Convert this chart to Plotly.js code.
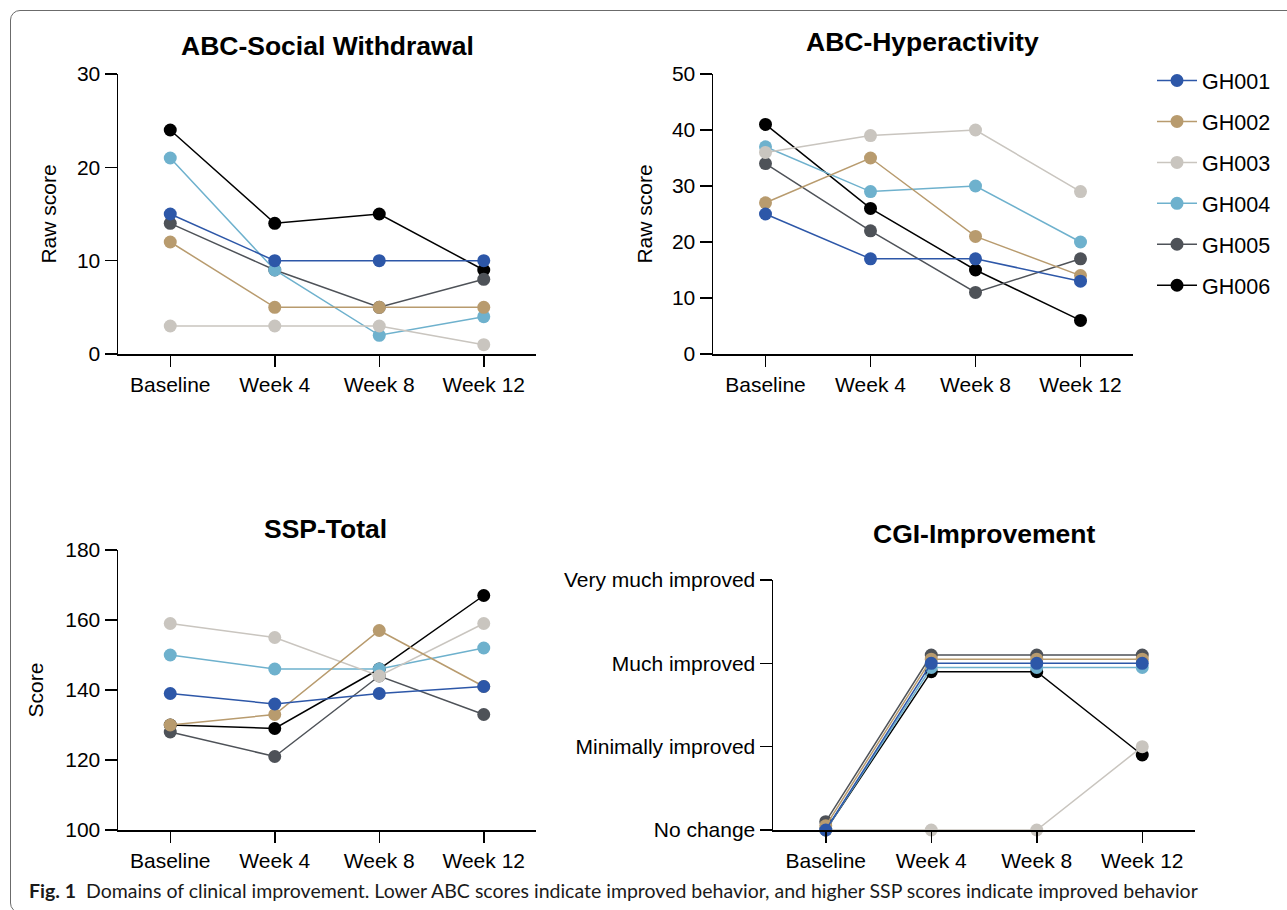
<!DOCTYPE html>
<html><head><meta charset="utf-8">
<script src="https://cdn.plot.ly/plotly-3.0.1.min.js"></script>
<style>
html,body{margin:0;padding:0;background:#fff;overflow:hidden;}
#frame{position:absolute;left:10px;top:10px;width:1300px;height:903px;border:1px solid #6b6b6b;border-radius:10px;box-sizing:border-box;}
#chart{position:absolute;left:0;top:0;width:1287px;height:910px;}
</style></head><body>
<div id="frame"></div>
<div id="chart"></div>
<script>
// ---- data ----
const timepoints = ['Baseline', 'Week 4', 'Week 8', 'Week 12'];
const subjects = ['GH001', 'GH002', 'GH003', 'GH004', 'GH005', 'GH006'];
const subjectColors = ['#2D57A8', '#B89B6E', '#C9C5BF', '#6EB1CD', '#4E5258', '#000000'];

// ABC-Social Withdrawal raw scores (rows = subjects, cols = timepoints)
const socialWithdrawal = [
  [15, 10, 10, 10],
  [12, 5, 5, 5],
  [3, 3, 3, 1],
  [21, 9, 2, 4],
  [14, 9, 5, 8],
  [24, 14, 15, 9]
];
// ABC-Hyperactivity raw scores
const hyperactivity = [
  [25, 17, 17, 13],
  [27, 35, 21, 14],
  [36, 39, 40, 29],
  [37, 29, 30, 20],
  [34, 22, 11, 17],
  [41, 26, 15, 6]
];
// SSP-Total scores
const sspTotal = [
  [139, 136, 139, 141],
  [130, 133, 157, 141],
  [159, 155, 144, 159],
  [150, 146, 146, 152],
  [128, 121, 144, 133],
  [130, 129, 146, 167]
];
// CGI-Improvement (as drawn, with the small vertical nudges of the original)
const cgiImprovement = [
  [0, 2, 2, 2],
  [0.05, 2.05, 2.05, 2.05],
  [0, 0, 0, 1],
  [0, 1.95, 1.95, 1.95],
  [0.1, 2.1, 2.1, 2.1],
  [0, 1.9, 1.9, 0.9]
];
const cgiLevels = ['No change', 'Minimally improved', 'Much improved', 'Very much improved'];

const panelTitles = ['ABC-Social Withdrawal', 'ABC-Hyperactivity', 'SSP-Total', 'CGI-Improvement'];
const caption = 'Domains of clinical improvement. Lower ABC scores indicate improved behavior, and higher SSP scores indicate improved behavior';

// ---- build traces ----
const FONT = 'Liberation Sans, Arial, sans-serif';
const panels = [
  {data: socialWithdrawal, xa: 'x', ya: 'y'},
  {data: hyperactivity, xa: 'x2', ya: 'y2'},
  {data: sspTotal, xa: 'x3', ya: 'y3'},
  {data: cgiImprovement, xa: 'x4', ya: 'y4'}
];
const traces = [];
panels.forEach((p, pi) => {
  for (let s = subjects.length - 1; s >= 0; s--) {
    traces.push({
      type: 'scatter', mode: 'lines+markers',
      x: timepoints, y: p.data[s],
      xaxis: p.xa, yaxis: p.ya,
      name: subjects[s], legendgroup: subjects[s], legendrank: s + 1,
      showlegend: pi === 0,
      line: {color: subjectColors[s], width: 1.5},
      marker: {color: subjectColors[s], size: 13},
      cliponaxis: false,
      hoverinfo: 'x+y+name'
    });
  }
});

function xAxis(domain, anchor) {
  return {
    domain: domain, anchor: anchor, type: 'category', range: [-0.5, 3.5],
    showline: true, linecolor: '#000', linewidth: 1.5,
    ticks: 'outside', ticklen: 11, tickwidth: 1.5, tickcolor: '#000',
    showgrid: false, zeroline: false, fixedrange: true,
    tickfont: {family: FONT, size: 21, color: '#000'}
  };
}
function yAxis(domain, anchor, range, dtick, title, standoff) {
  const a = {
    domain: domain, anchor: anchor, range: range, dtick: dtick, tick0: 0,
    showline: true, linecolor: '#000', linewidth: 1.5,
    ticks: 'outside', ticklen: 12, tickwidth: 1.5, tickcolor: '#000',
    showgrid: false, zeroline: false, fixedrange: true,
    tickfont: {family: FONT, size: 21, color: '#000'}
  };
  if (title) a.title = {text: title, font: {family: FONT, size: 21, color: '#000'}, standoff: standoff};
  return a;
}

const W = 1287, H = 910;
const px = v => v / W, py = v => 1 - v / H;

const layout = {
  width: W, height: H,
  margin: {l: 0, r: 0, t: 0, b: 0},
  paper_bgcolor: 'rgba(0,0,0,0)', plot_bgcolor: 'rgba(0,0,0,0)',
  showlegend: true,
  legend: {
    x: px(1152), y: py(60), xanchor: 'left', yanchor: 'top',
    font: {family: FONT, size: 21.5, color: '#000'},
    traceorder: 'grouped', tracegroupgap: 10, itemwidth: 40,
    bgcolor: 'rgba(0,0,0,0)', borderwidth: 0
  },
  xaxis: xAxis([px(118), px(536)], 'y'),
  yaxis: yAxis([py(354), py(74)], 'x', [0, 30], 10, 'Raw score', 14),
  xaxis2: xAxis([px(713), px(1133)], 'y2'),
  yaxis2: yAxis([py(354), py(74)], 'x2', [0, 50], 10, 'Raw score', 13),
  xaxis3: xAxis([px(118), px(536)], 'y3'),
  yaxis3: yAxis([py(830), py(550)], 'x3', [100, 180], 20, 'Score', 16),
  xaxis4: xAxis([px(773), px(1195)], 'y4'),
  yaxis4: Object.assign(yAxis([py(830), py(580)], 'x4', [0, 3], 1, null, 0), {
    tickmode: 'array', tickvals: cgiLevels.map((_, i) => i), ticktext: cgiLevels
  }),
  annotations: [
    {text: '<b>' + panelTitles[0] + '</b>', x: px(327), y: py(46)},
    {text: '<b>' + panelTitles[1] + '</b>', x: px(923), y: py(42)},
    {text: '<b>' + panelTitles[2] + '</b>', x: px(325), y: py(529)},
    {text: '<b>' + panelTitles[3] + '</b>', x: px(984), y: py(534)}
  ].map(a => Object.assign(a, {
    xref: 'paper', yref: 'paper', xanchor: 'center', yanchor: 'middle', showarrow: false,
    font: {family: FONT, size: 26.5, color: '#000'}
  })).concat([{
    text: '<b>Fig. 1</b>  ' + caption,
    x: px(27), y: py(890), xref: 'paper', yref: 'paper', xanchor: 'left', yanchor: 'middle',
    showarrow: false, font: {family: 'Lato, Open Sans, sans-serif', size: 19.5, color: '#1a1a1a'}
  }])
};

Plotly.newPlot('chart', traces, layout, {displayModeBar: false, staticPlot: true});
</script>
</body></html>
